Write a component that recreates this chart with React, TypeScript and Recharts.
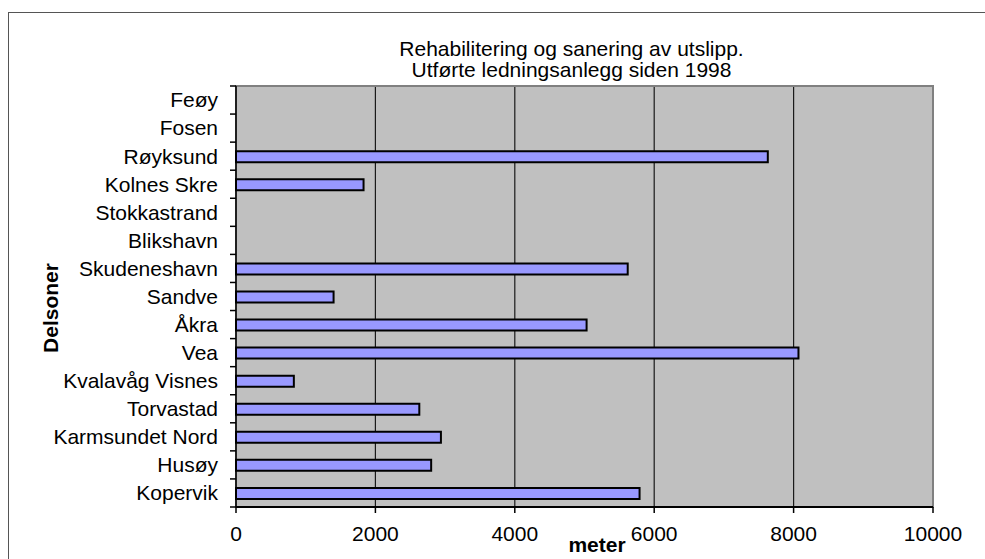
import React from 'react';
import { BarChart, Bar, XAxis, YAxis, CartesianGrid, ReferenceArea } from 'recharts';

// delsoner, ovenfra og ned
const ZONES = [
  'Feøy', 'Fosen', 'Røyksund', 'Kolnes Skre', 'Stokkastrand', 'Blikshavn', 'Skudeneshavn',
  'Sandve', 'Åkra', 'Vea', 'Kvalavåg Visnes', 'Torvastad', 'Karmsundet Nord', 'Husøy', 'Kopervik',
];
// meter ledning utført (null = ingen)
const METERS: (number | null)[] = [
  null, null, 7630, 1830, null, null, 5620,
  1400, 5030, 8070, 830, 2630, 2940, 2800, 5790,
];
const X_TICKS = [0, 2000, 4000, 6000, 8000, 10000];
const TITLE = ['Rehabilitering og sanering av utslipp.', 'Utførte ledningsanlegg siden 1998'];
const X_TITLE = 'meter';
const Y_TITLE = 'Delsoner';

const W = 985;
const H = 559;
const MARGIN = { top: 86, right: 52, bottom: 12, left: 46 };
const X_AXIS_H = 40;
const Y_AXIS_W = 190;
const PLOT_H = H - MARGIN.top - MARGIN.bottom - X_AXIS_H;
const BAND = PLOT_H / ZONES.length;
const FONT = '"Liberation Sans", Arial, sans-serif';

// ingen body-margin, ellers far vi scrollbar
if (typeof document !== 'undefined') {
  document.body.style.margin = '0';
  document.body.style.overflow = 'hidden';
}

const data = ZONES.map((zone, i) => ({ zone, meter: METERS[i] }));

const YTick = (props: any) => {
  const { x, y, payload, index } = props;
  const half = BAND / 2;
  return (
    <g>
      <line x1={x + 12} x2={x + 18} y1={y - half} y2={y - half} stroke="#000" strokeWidth={1.5} />
      {index === ZONES.length - 1 && (
        <line x1={x + 12} x2={x + 18} y1={y + half} y2={y + half} stroke="#000" strokeWidth={1.5} />
      )}
      <text x={x} y={y} dy="0.35em" textAnchor="end" fontSize={21} fill="#000">
        {payload.value}
      </text>
    </g>
  );
};

// bare de indre gridlinjene
const GridLine = (props: any) => {
  const { index, x1, x2, y1, y2 } = props;
  if (index === 0 || index === X_TICKS.length - 1) return <g />;
  return <line x1={x1} x2={x2} y1={y1} y2={y2} stroke="#1a1a1a" strokeWidth={1.2} />;
};

export default function App() {
  return (
    <div style={{ position: 'relative', width: W, height: H, fontFamily: FONT, overflow: 'hidden', background: '#fff' }}>
      {/* ytre ramme, bare venstre og topp synlig */}
      <div
        style={{
          position: 'absolute', left: 8, top: 12, width: W, height: H,
          borderLeft: '1px solid #555', borderTop: '1px solid #555',
        }}
      />
      <div style={{ position: 'absolute', left: 0, top: 0 }}>
        <BarChart width={W} height={H} layout="vertical" data={data} margin={MARGIN} barSize={11}>
          <CartesianGrid horizontal={false} vertical={GridLine} fill="#c0c0c0" />
          <ReferenceArea
            x1={0}
            x2={10000}
            y1={ZONES[0]}
            y2={ZONES[ZONES.length - 1]}
            fill="none"
            stroke="#808080"
            strokeWidth={2}
            ifOverflow="visible"
          />
          <XAxis
            type="number"
            domain={[0, 10000]}
            ticks={X_TICKS}
            interval={0}
            height={X_AXIS_H}
            tickSize={6}
            tickMargin={13}
            axisLine={{ stroke: '#000', strokeWidth: 2 }}
            tickLine={{ stroke: '#000', strokeWidth: 1.5 }}
            tick={{ fill: '#000', fontSize: 21 }}
          />
          <YAxis
            type="category"
            dataKey="zone"
            width={Y_AXIS_W}
            interval={0}
            tickSize={6}
            tickMargin={12}
            tickLine={false}
            tick={YTick}
            axisLine={{ stroke: '#000', strokeWidth: 1.5 }}
          />
          <Bar dataKey="meter" fill="#9999ff" stroke="#000" strokeWidth={2} isAnimationActive={false} />
        </BarChart>
      </div>

      <svg
        width={W}
        height={H}
        style={{ position: 'absolute', left: 0, top: 0, pointerEvents: 'none' }}
      >
        <text x={571.5} y={56} textAnchor="middle" fontSize={21} fill="#000">{TITLE[0]}</text>
        <text x={571.5} y={77} textAnchor="middle" fontSize={21} fill="#000">{TITLE[1]}</text>
        <text x={597} y={552} textAnchor="middle" fontSize={21} fontWeight="bold" fill="#000">{X_TITLE}</text>
        <text
          x={58}
          y={308}
          textAnchor="middle"
          fontSize={21}
          fontWeight="bold"
          fill="#000"
          transform="rotate(-90, 58, 308)"
        >
          {Y_TITLE}
        </text>
      </svg>
    </div>
  );
}
